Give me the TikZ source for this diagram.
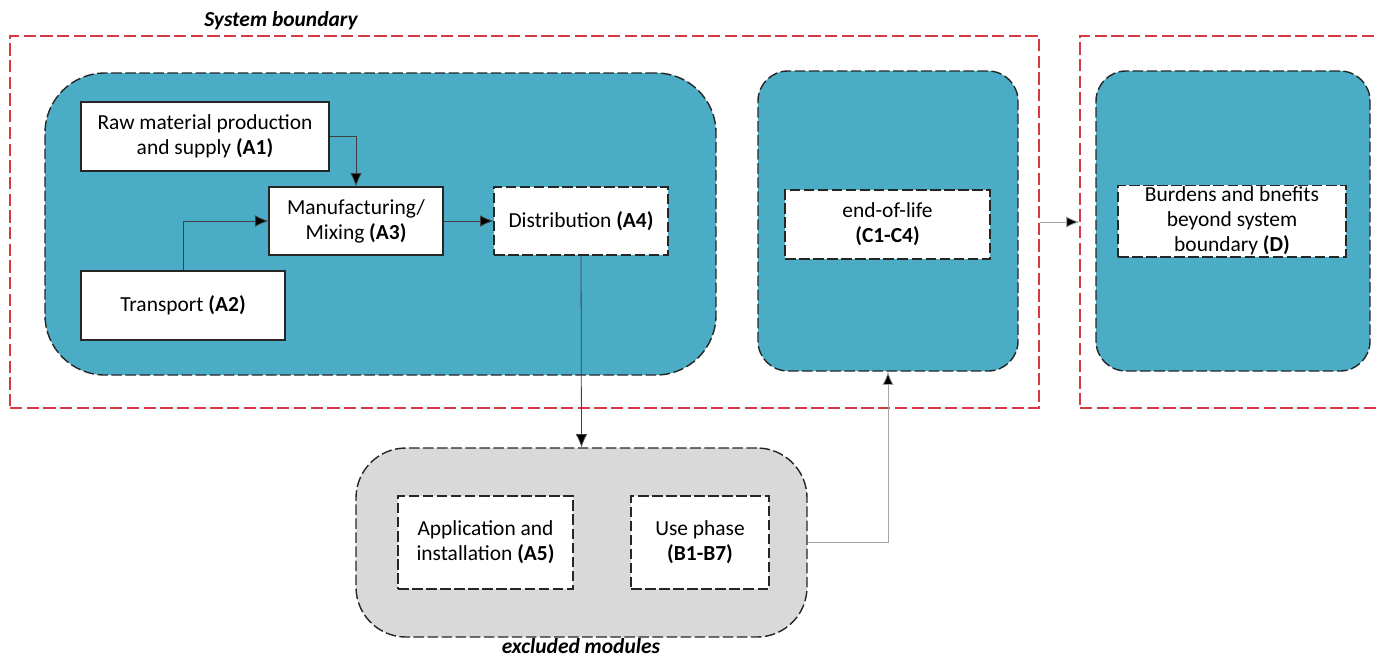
\documentclass[tikz,border=0pt]{standalone}
\usepackage{fontspec}
\setmainfont{Carlito}
\usetikzlibrary{arrows.meta}
\definecolor{phaseblue}{HTML}{4BACC6}
\definecolor{exclgrey}{HTML}{D9D9D9}
\definecolor{boundred}{HTML}{D43A3F}
\begin{document}
\begin{tikzpicture}[font=\fontsize{12.2}{14.2}\selectfont]
    % Define styles
    \tikzset{
        boundary/.style={draw=boundred, line width=0.7pt, dash pattern=on 7pt off 2.5pt, minimum width=20.58cm, minimum height=7.44cm},
        phase/.style={draw=black!85, fill=phaseblue, line width=0.8pt, dash pattern=on 6pt off 2pt, rounded corners=0.6cm},
        excluded/.style={draw=black!85, fill=exclgrey, line width=0.8pt, dash pattern=on 6pt off 2pt, rounded corners=1cm},
        stage/.style={draw=black!85, fill=white, line width=0.7pt, align=center, inner sep=1pt},
        stagedash/.style={stage, dash pattern=on 6pt off 2pt},
        arrow/.style={-{Latex[length=7.5pt, width=6.5pt, fill=black]}, draw=black!75, line width=0.45pt},
        lightarrow/.style={arrow, draw=black!35},
        caption/.style={font=\fontsize{12.2}{13}\selectfont\bfseries\itshape, inner sep=1pt}
    }
    \useasboundingbox (0,0) rectangle (27.58,-13.18);

    % System boundaries
    \node[boundary] (sb) at (10.49,-4.44) {};
    \node[boundary, minimum width=6.4cm] (db) at (24.8,-4.44) {};
    \node[caption] (sbl) at (5.62,-0.42) {System boundary};

    % Product stage
    \node[phase, rounded corners=1.2cm, minimum width=13.42cm, minimum height=6.04cm] (prod) at (7.61,-4.48) {};
    \node[stage, minimum width=4.96cm, minimum height=1.38cm] (a1) at (4.10,-2.73) {Raw material production\\ and supply \textbf{(A1)}};
    \node[stage, minimum width=4.08cm, minimum height=1.38cm] (a2) at (3.66,-6.11) {Transport \textbf{(A2)}};
    \node[stage, minimum width=3.48cm, minimum height=1.36cm] (a3) at (7.12,-4.42) {Manufacturing/\\ Mixing \textbf{(A3)}};
    \node[stagedash, minimum width=3.48cm, minimum height=1.36cm] (a4) at (11.62,-4.42) {Distribution \textbf{(A4)}};

    % End-of-life stage
    \node[phase, minimum width=5.2cm, minimum height=6cm] (eol) at (17.76,-4.42) {};
    \node[stagedash, minimum width=4.1cm, minimum height=1.38cm] (c) at (17.75,-4.49) {end-of-life\\ \textbf{(C1-C4)}};

    % Beyond system boundary
    \node[phase, minimum width=5.48cm, minimum height=6cm] (ben) at (24.66,-4.42) {};
    \node[stagedash, minimum width=4.56cm, minimum height=1.4cm] (d) at (24.64,-4.42) {Burdens and bnefits\\ beyond system\\ boundary \textbf{(D)}};

    % Excluded modules
    \node[excluded, minimum width=9.02cm, minimum height=3.78cm] (excl) at (11.63,-10.85) {};
    \node[stagedash, minimum width=3.5cm, minimum height=1.86cm] (a5) at (9.71,-10.85) {Application and\\ installation \textbf{(A5)}};
    \node[stagedash, minimum width=2.76cm, minimum height=1.86cm] (b) at (14.0,-10.85) {Use phase\\ \textbf{(B1-B7)}};
    \node[caption] (exl) at (11.62,-12.93) {excluded modules};

    % Arrows
    \draw[arrow] (a1.east) -| (a3.north);
    \draw[arrow] (a2.north) |- (a3.west);
    \draw[arrow] (a3) -- (a4);
    \draw[arrow] (a4.south) -- (excl.north);
    \draw[lightarrow] (excl.east) -| (eol.south);
    \draw[lightarrow] (sb.east) -- (db.west);
\end{tikzpicture}
\end{document}
